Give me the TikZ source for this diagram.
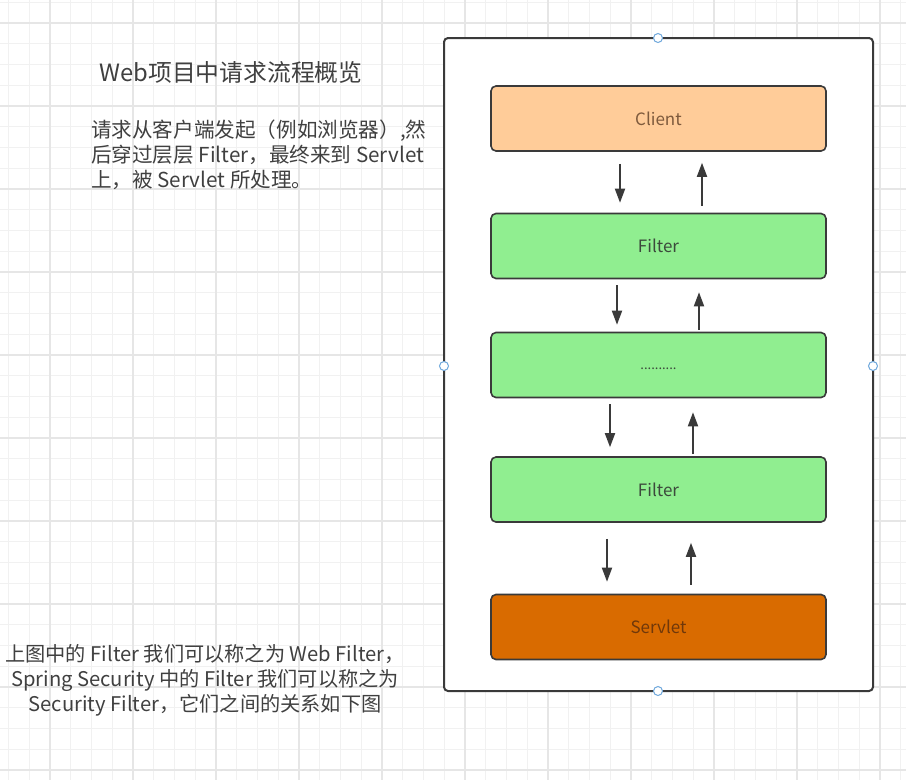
\documentclass[tikz,border=0pt]{standalone}
\usepackage{fontspec}
\setmainfont{Noto Sans CJK SC}
\usetikzlibrary{positioning}
\usetikzlibrary{arrows.meta}

\definecolor{gridminor}{HTML}{F1F1F1}
\definecolor{gridmajor}{HTML}{E6E6E6}
\definecolor{edgegrey}{HTML}{3A3A3A}
\definecolor{txtgrey}{HTML}{404040}
\definecolor{clientfill}{HTML}{FFCC99}
\definecolor{clienttxt}{HTML}{7E5A3C}
\definecolor{filterfill}{HTML}{90EE90}
\definecolor{filtertxt}{HTML}{3C4A3C}
\definecolor{servletfill}{HTML}{D96B00}
\definecolor{servlettxt}{HTML}{70380A}
\definecolor{handle}{HTML}{6FA8DC}

\begin{document}
\begin{tikzpicture}[x=1pt, y=-1pt,
    layer/.style={draw=edgegrey, line width=1.6pt, rounded corners=5pt,
      minimum width=335pt, minimum height=65pt, inner sep=0pt,
      font=\fontsize{17}{20}\selectfont},
    flow/.style={draw=edgegrey, line width=1.8pt,
      -{Triangle[width=10pt, length=14pt]}},
    knob/.style={circle, draw=handle, fill=white, line width=1pt,
      minimum size=9pt, inner sep=0pt}]
  \useasboundingbox (0,0) rectangle (906,780);
  \fill[white] (0,0) rectangle (906,780);

  % background grid
  \foreach \i in {-2,...,43}
    \draw[gridminor, line width=1pt] ({50+\i*20.75},0) -- ++(0,780);
  \foreach \i in {-1,...,37}
    \draw[gridminor, line width=1pt] (0,{23+\i*20.75}) -- ++(906,0);
  \foreach \i in {0,...,10}
    \draw[gridmajor, line width=1.2pt] ({50+\i*83},0) -- ++(0,780);
  \foreach \i in {0,...,9}
    \draw[gridmajor, line width=1.2pt] (0,{23+\i*83}) -- ++(906,0);

  % left texts
  \node[text=txtgrey, font=\fontsize{23.8}{28}\selectfont] (title) at (231,72)
    {Web项目中请求流程概览};
  \node[text=txtgrey, align=left, anchor=west, inner sep=0pt,
    font=\fontsize{20.6}{25}\selectfont] (intro) at (91,155)
    {请求从客户端发起（例如浏览器）,然\\
     后穿过层层 Filter，最终来到 Servlet\\
     上，被 Servlet 所处理。};
  \node[text=txtgrey, align=center, inner sep=0pt,
    font=\fontsize{20.2}{25}\selectfont] (note) at (205,680)
    {上图中的 Filter 我们可以称之为 Web Filter，\\
     Spring Security 中的 Filter 我们可以称之为\\
     Security Filter，它们之间的关系如下图};

  % container
  \draw[edgegrey, line width=2pt, fill=white, rounded corners=4pt]
    (444,38) rectangle (873,691);
  \node[knob] (kn) at (658,38) {};
  \node[knob] (kw) at (444,366) {};
  \node[knob] (ke) at (873,366) {};
  \node[knob] (ks) at (658,691) {};

  % layers
  \node[layer, fill=clientfill, text=clienttxt] (client) at (658.5,118.5) {Client};
  \node[layer, fill=filterfill, text=filtertxt] (filterA) at (658.5,246) {Filter};
  \node[layer, fill=filterfill, text=filtertxt] (dots) at (658.5,365) {};
  \node[text=filtertxt, font=\fontsize{13}{13}\selectfont, inner sep=0pt]
    (dotsTxt) at (658.5,369) {..........};
  \node[layer, fill=filterfill, text=filtertxt] (filterB) at (658.5,489.5) {Filter};
  \node[layer, fill=servletfill, text=servlettxt] (servlet) at (658.5,627) {Servlet};

  % requests down, responses up
  \draw[flow, shorten <=12pt, shorten >=10pt]
    ([xshift=-38.5pt]client.south) -- ([xshift=-38.5pt]filterA.north);
  \draw[flow, shorten <=7pt, shorten >=11pt]
    ([xshift=43.5pt]filterA.north) -- ([xshift=43.5pt]client.south);
  \draw[flow, shorten <=6pt, shorten >=7pt]
    ([xshift=-41.5pt]filterA.south) -- ([xshift=-41.5pt]dots.north);
  \draw[flow, shorten <=2pt, shorten >=13pt]
    ([xshift=40.5pt]dots.north) -- ([xshift=40.5pt]filterA.south);
  \draw[flow, shorten <=6pt, shorten >=9pt]
    ([xshift=-48.5pt]dots.south) -- ([xshift=-48.5pt]filterB.north);
  \draw[flow, shorten <=2pt, shorten >=14pt]
    ([xshift=34.5pt]filterB.north) -- ([xshift=34.5pt]dots.south);
  \draw[flow, shorten <=16pt, shorten >=12pt]
    ([xshift=-51.5pt]filterB.south) -- ([xshift=-51.5pt]servlet.north);
  \draw[flow, shorten <=9pt, shorten >=20pt]
    ([xshift=32.5pt]servlet.north) -- ([xshift=32.5pt]filterB.south);
\end{tikzpicture}
\end{document}
